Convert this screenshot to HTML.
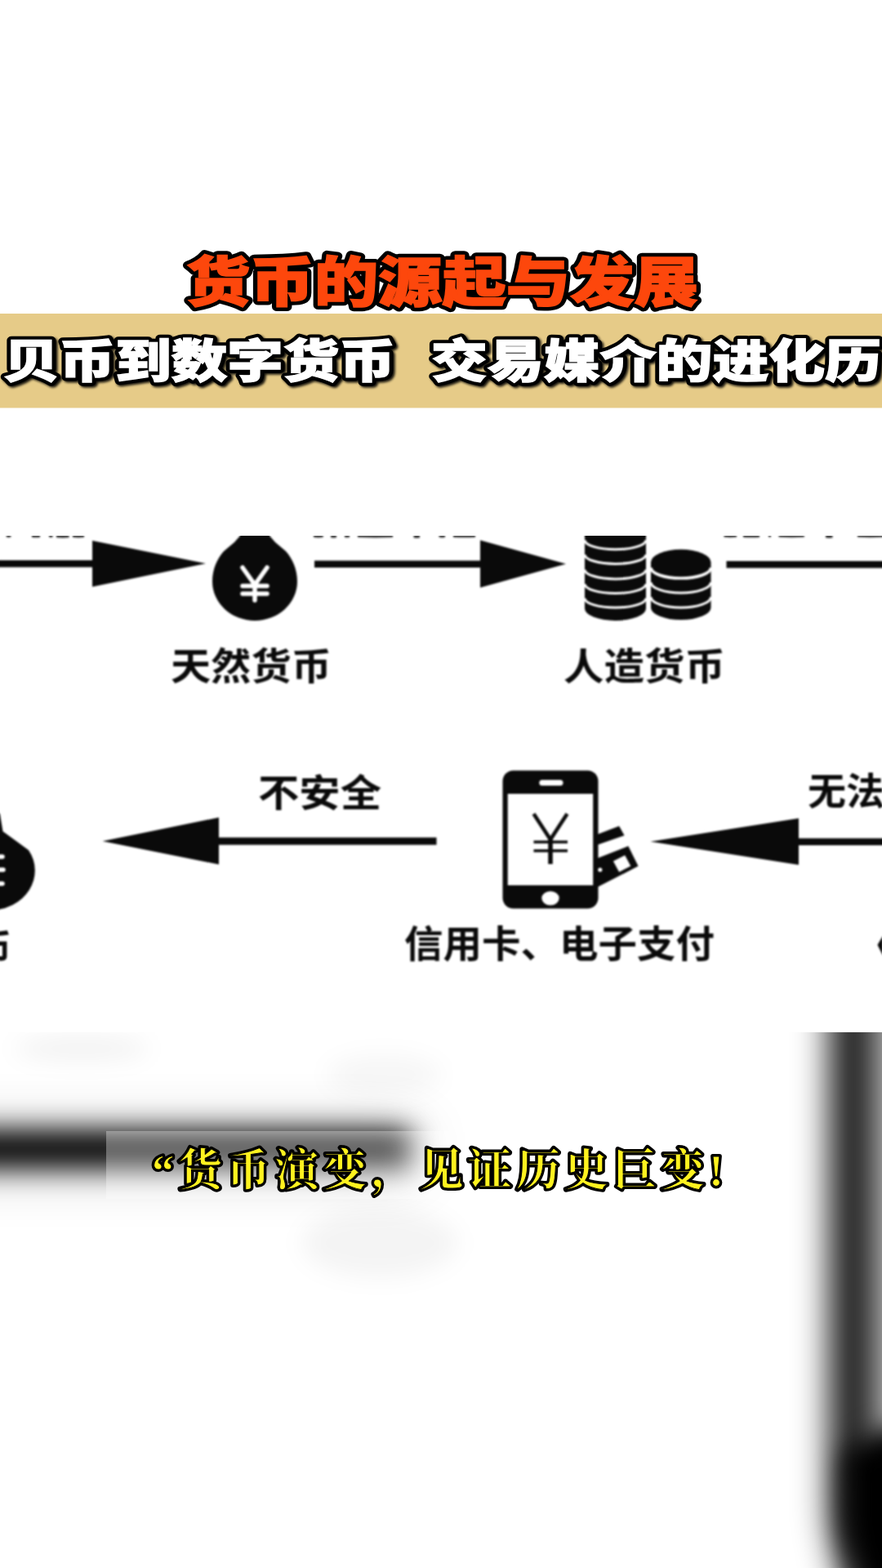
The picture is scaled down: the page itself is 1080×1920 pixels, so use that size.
<!DOCTYPE html>
<html lang="zh"><head><meta charset="utf-8"><title>货币的源起与发展</title>
<style>
html,body{margin:0;padding:0;background:#fff;}
body{width:1080px;height:1920px;overflow:hidden;position:relative;font-family:"Liberation Sans",sans-serif;}
svg{position:absolute;left:0;top:0;display:block}
</style></head><body>
<svg width="1080" height="1920" viewBox="0 0 1080 1920">
<defs>
<filter color-interpolation-filters="sRGB" id="b17" filterUnits="userSpaceOnUse" x="-200" y="1200" width="1000" height="420"><feGaussianBlur stdDeviation="17"/></filter>
<filter color-interpolation-filters="sRGB" id="b34" filterUnits="userSpaceOnUse" x="-300" y="1100" width="1200" height="620"><feGaussianBlur stdDeviation="34"/></filter>
<filter color-interpolation-filters="sRGB" id="b22" filterUnits="userSpaceOnUse" x="850" y="1000" width="500" height="1200"><feGaussianBlur stdDeviation="22"/></filter>
<filter color-interpolation-filters="sRGB" id="b14" filterUnits="userSpaceOnUse" x="-100" y="1200" width="900" height="500"><feGaussianBlur stdDeviation="14"/></filter>
<filter color-interpolation-filters="sRGB" id="b12" filterUnits="userSpaceOnUse" x="950" y="1600" width="450" height="600"><feGaussianBlur stdDeviation="15"/></filter>
<filter color-interpolation-filters="sRGB" id="b06" x="-5%" y="-5%" width="110%" height="110%"><feGaussianBlur stdDeviation="0.85"/></filter>
<filter color-interpolation-filters="sRGB" id="sh" x="-5%" y="-30%" width="110%" height="160%"><feGaussianBlur stdDeviation="1.6"/></filter>
<clipPath id="frame"><rect x="0" y="656" width="1080" height="608"/></clipPath>
<clipPath id="below"><rect x="0" y="1264" width="1080" height="656"/></clipPath>
</defs>
<rect width="1080" height="1920" fill="#fff"/>

<!-- blurred backdrop (bottom) -->
<g clip-path="url(#below)">
  <rect x="-120" y="1381" width="630" height="56" fill="#000" opacity="0.2" filter="url(#b34)"/>
  <rect x="-120" y="1384" width="622" height="46" fill="#000" filter="url(#b17)"/>
  <g filter="url(#b22)">
    <rect x="1066" y="1100" width="200" height="700" fill="#bdbdbd"/>
    <path d="M1018 1100 L1066 1100 L1066 2100 L1090 2100 C1050 1990 1028 1925 1018 1860 Z" fill="#000"/>
  </g>
  <path d="M1032 1780 L1080 1749 L1300 1749 L1300 2100 L1100 2100 C1072 2000 1040 1930 1032 1870 Z" fill="#000" filter="url(#b12)"/>
  <g filter="url(#b14)" fill="#000">
    <ellipse cx="100" cy="1284" rx="82" ry="15" opacity="0.05"/>
    <ellipse cx="470" cy="1316" rx="70" ry="24" opacity="0.035"/>
    <ellipse cx="465" cy="1522" rx="95" ry="42" opacity="0.042"/>
  </g>
  <rect x="130" y="1385" width="820" height="83" fill="#fff" fill-opacity="0.32"/>
</g>

<!-- tan band -->
<rect x="0" y="384" width="1080" height="115.5" fill="#e6cb88"/>

<!-- title -->
<text x="228" y="369" font-family="'Liberation Sans','Noto Sans CJK SC',sans-serif" font-size="66" font-weight="900" textLength="627" lengthAdjust="spacingAndGlyphs" fill="#000" stroke="#000" stroke-width="10.6" stroke-linejoin="round">货币的源起与发展</text>
<text x="228" y="369" font-family="'Liberation Sans','Noto Sans CJK SC',sans-serif" font-size="66" font-weight="900" textLength="627" lengthAdjust="spacingAndGlyphs" fill="#fd470c" stroke="#fd470c" stroke-width="1.6" stroke-linejoin="miter">货币的源起与发展</text>

<!-- subtitle -->
<g filter="url(#sh)" opacity="0.9"><g transform="translate(2.2,2.2)" font-family="'Liberation Sans','Noto Sans CJK SC',sans-serif" font-size="56" font-weight="900" fill="#000" stroke="#000" stroke-width="9.4" stroke-linejoin="round">
<text x="4" y="462" textLength="480" lengthAdjust="spacingAndGlyphs">贝币到数字货币</text>
<text x="528" y="462" textLength="551" lengthAdjust="spacingAndGlyphs">交易媒介的进化历</text>
</g></g>
<g font-family="'Liberation Sans','Noto Sans CJK SC',sans-serif" font-size="56" font-weight="900" fill="#000" stroke="#000" stroke-width="9.4" stroke-linejoin="round">
<text x="4" y="462" textLength="480" lengthAdjust="spacingAndGlyphs">贝币到数字货币</text>
<text x="528" y="462" textLength="551" lengthAdjust="spacingAndGlyphs">交易媒介的进化历</text>
</g>
<g font-family="'Liberation Sans','Noto Sans CJK SC',sans-serif" font-size="56" font-weight="900" fill="#fff" stroke="#fff" stroke-width="1.4" stroke-linejoin="miter">
<text x="4" y="462" textLength="480" lengthAdjust="spacingAndGlyphs">贝币到数字货币</text>
<text x="528" y="462" textLength="551" lengthAdjust="spacingAndGlyphs">交易媒介的进化历</text>
</g>

<!-- diagram frame -->
<g clip-path="url(#frame)" filter="url(#b06)">
  <rect x="0" y="656" width="1080" height="608" fill="#fff"/>
  <g fill="#0a0a0a">
  <!-- remnants of cut-off labels at top -->
  <path d="M7.8 655h5.5v2.7q-2.8 0.9 -5.5 0zM39 655h10v2.9q-5.0 0.9 -10.0 0zM60 655h4.5v2.7q-2.2 0.9 -4.5 0zM69 655h15.5v3.3q-7.8 0.9 -15.5 0zM89 655h14v3.1q-7.0 0.9 -14.0 0zM384 655h11.6v3.1q-5.8 0.9 -11.6 0zM405 655h7v3.3q-3.5 0.9 -7.0 0zM422 655h6v2.9q-3.0 0.9 -6.0 0zM438 655h43v3.1q-21.5 0.9 -43.0 0zM506.5 655h7.5v3.5q-3.8 0.9 -7.5 0zM537.6 655h7.4v3.1q-3.7 0.9 -7.4 0zM555 655h27v2.9q-13.5 0.9 -27.0 0zM886.5 655h15.5v2.7q-7.8 0.9 -15.5 0zM910 655h20v2.9q-10.0 0.9 -20.0 0zM941 655h3v2.5q-1.5 0.9 -3.0 0zM953.6 655h31.2v2.7q-15.6 0.9 -31.2 0zM1011 655h8.5v3.5q-4.2 0.9 -8.5 0zM1050 655h32v2.7q-16.0 0.9 -32.0 0z" opacity="0.8"/>
  <!-- arrow 1 -->
  <rect x="-5" y="686" width="120" height="8.5"/>
  <path d="M113 662 L252 690 L113 718.5 Z"/>
  <!-- money bag 1 -->
  <path d="M294 650 L330 650 L330 656 L337 664 L350 675 C358 684 364 697 364 712 A52 48 0 0 1 260 712 C260 697 266 684 274 675 L287 664 L294 656 Z"/>
  <!-- arrow 2 -->
  <rect x="385" y="686.5" width="205" height="8.5"/>
  <path d="M588 661.5 L693 690.5 L588 719.5 Z"/>
  <!-- coins left stack -->
  <path d="M716 650 L791 650 L791 745 A37.5 15 0 0 1 716 745 Z"/>
  <!-- coins right stack -->
  <path d="M797 688.5 A36.7 15.7 0 0 1 870.5 688.5 L870.5 744 A36.7 15 0 0 1 797 744 Z"/>
  <!-- line 3 -->
  <rect x="889.5" y="687" width="200" height="8.5"/>
  <!-- arrow 3 (left) -->
  <rect x="266" y="1025.5" width="268.5" height="9"/>
  <path d="M268 1001 L125.5 1030 L268 1058.5 Z"/>
  <!-- arrow 4 (left) -->
  <rect x="976" y="1026.5" width="110" height="8.5"/>
  <path d="M978 1002 L796.5 1030.5 L978 1059 Z"/>
  <!-- money bag 2 (left edge) -->
  <path d="M-6 990 L0 997 L3.5 1018 L20 1030 L35 1041 A55 48.7 0 0 1 -12 1114.7 L-40 1115 L-40 990 Z"/>
  <!-- right edge blob -->
  <path d="M1081 1146 L1074.5 1157 L1081 1170 Z"/>
  <!-- card -->
  <path d="M730 1022.2 L758.1 1011.5 L764.5 1023 L730 1035 Z"/>
  <path d="M730 1051.5 L769.3 1036.1 L781.5 1060.6 L730 1087 Z"/>
  <!-- phone body -->
  <rect x="615.5" y="943.5" width="117" height="169" rx="13" ry="13"/>
  <!-- labels -->
  <g font-family="'Liberation Sans','Noto Sans CJK SC',sans-serif" font-size="46" font-weight="bold" fill="#0a0a0a">
    <text x="209" y="832" textLength="197" lengthAdjust="spacingAndGlyphs">天然货币</text>
    <text x="690" y="832" textLength="198" lengthAdjust="spacingAndGlyphs">人造货币</text>
    <text x="316" y="987" textLength="151" lengthAdjust="spacingAndGlyphs">不安全</text>
    <text x="495" y="1172" textLength="380" lengthAdjust="spacingAndGlyphs">信用卡、电子支付</text>
    <text x="989" y="985" textLength="94" lengthAdjust="spacingAndGlyphs">无法</text>
    <text x="-29" y="1177" textLength="43" lengthAdjust="spacingAndGlyphs">币</text>
  </g>
  </g>
  <g fill="#fff">
  <!-- phone screen etc -->
  <rect x="621.7" y="972" width="104.5" height="112"/>
  <rect x="660.3" y="955" width="29.2" height="7" rx="3.5"/>
  <ellipse cx="674" cy="1099.8" rx="10.7" ry="8.6"/>
  <!-- card chip + dot -->
  <path d="M750.9 1054.4 L765.2 1047.3 L772.3 1060.6 L758.1 1067.7 Z"/>
  <circle cx="734.8" cy="1065" r="2.6"/>
  </g>
  <!-- yen on bag -->
  <g stroke="#fff" stroke-width="5.5" fill="none" stroke-linecap="round">
    <path d="M297 695 L312 716 L327 695 M312 716 L312 735 M297 717.5 H327 M297 727 H327"/>
    <path d="M-12 1049 H3 M-12 1065 H4 M-12 1082 H3"/>
  </g>
  <!-- yen on phone -->
  <g stroke="#0a0a0a" fill="none">
    <path d="M653.5 996.5 L674 1028 L694.5 996.5" stroke-width="4.6"/>
    <path d="M674 1026 V1058" stroke-width="5.6"/>
    <path d="M653.5 1031 H695 M653.5 1041.8 H695" stroke-width="3.6"/>
  </g>
  <!-- coin separators -->
  <g stroke="#fff" stroke-width="3" fill="none">
    <path d="M716 661.3 A37.5 11.5 0 0 0 791 661.3 M716 678.9 A37.5 11.5 0 0 0 791 678.9 M716 697.4 A37.5 11.5 0 0 0 791 697.4 M716 715 A37.5 11.5 0 0 0 791 715 M716 732.5 A37.5 11.5 0 0 0 791 732.5"/>
    <path d="M797 695 A36.7 13 0 0 0 870.5 695" stroke-width="3.6"/>
    <path d="M797 713 A36.7 13 0 0 0 870.5 713 M797 731 A36.7 13 0 0 0 870.5 731"/>
  </g>
</g>

<!-- caption -->
<text x="186" y="1452" font-family="'Liberation Serif','Noto Serif CJK SC',serif" font-size="54" font-weight="bold" textLength="700" lengthAdjust="spacing" fill="#000" stroke="#000" stroke-width="6.0" stroke-linejoin="round">“货币演变，见证历史巨变!</text>
<text x="186" y="1452" font-family="'Liberation Serif','Noto Serif CJK SC',serif" font-size="54" font-weight="bold" textLength="700" lengthAdjust="spacing" fill="#fff21f" stroke="#000" stroke-width="1.0" stroke-linejoin="round">“货币演变，见证历史巨变!</text>
</svg>
</body></html>
